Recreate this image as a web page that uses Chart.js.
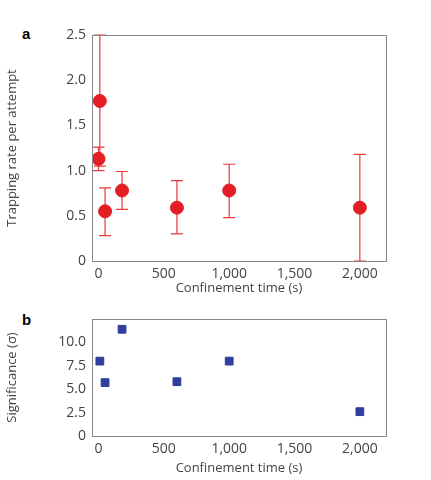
<!DOCTYPE html><html><head><meta charset="utf-8">
<script src="https://cdn.jsdelivr.net/npm/chart.js@4"></script>
<style>body{margin:0;background:#fff;width:431px;height:480px;position:relative;font-family:"Open Sans",sans-serif}
canvas{position:absolute;left:0}
.lab{position:absolute;font-weight:bold;font-size:15px;font-family:"Liberation Sans",sans-serif}</style></head><body>
<div class="lab" style="left:22px;top:25px">a</div>
<div class="lab" style="left:22px;top:311px">b</div>
<div style="position:absolute;left:0;top:0;width:431px;height:300px"><canvas id="c1"></canvas></div>
<div style="position:absolute;left:0;top:300px;width:431px;height:180px"><canvas id="c2"></canvas></div>
<script>
const timeA=[0,10,50,180,600,1000,2000];
const rate=[1.13,1.77,0.55,0.78,0.59,0.78,0.59];
const rateLo=[1.00,1.05,0.28,0.57,0.30,0.48,0.00];
const rateHi=[1.26,2.50,0.81,0.99,0.89,1.07,1.18];
const timeB=[10,50,180,600,1000,2000];
const sig=[8.0,5.7,11.4,5.8,8.0,2.6];
const xTicks=[0,500,1000,1500,2000];
const FONT={family:"Open Sans",size:13};
const TFONT={family:"Open Sans",size:14};
const grey='#888';
function xAxis(h,tp){return {type:'linear',min:-50,max:2200,afterBuildTicks:s=>{s.ticks=xTicks.map(v=>({value:v}));},
 afterFit:s=>{s.height=h;},grid:{display:false,drawOnChartArea:false,tickLength:4,color:grey},border:{color:grey},
 ticks:{font:TFONT,color:'#444',padding:1,callback:v=>v.toLocaleString('en-US')},
 title:{display:true,text:'Confinement time (s)',font:FONT,color:'#444',padding:{top:tp}}};}
function yAxis(min,max,step,title,fmt){return {min,max,afterFit:s=>{s.width=92;},
 grid:{display:false,drawOnChartArea:false,tickLength:4,color:grey},border:{color:grey},
 ticks:{stepSize:step,font:TFONT,color:'#444',padding:2,callback:fmt},
 title:{display:true,text:title,font:FONT,color:'#444',padding:{bottom:2}}};}
const frame={id:'frame',afterDraw(c){const a=c.chartArea,x=c.ctx;x.save();x.strokeStyle=grey;x.lineWidth=1;x.strokeRect(a.left+.5,a.top+.5,a.width,a.height);x.restore();}};
const errBars={id:'err',beforeDatasetsDraw(c){const x=c.ctx,sx=c.scales.x,sy=c.scales.y;x.save();x.strokeStyle='#e8393b';x.lineWidth=1.2;
 timeA.forEach((t,i)=>{const px=sx.getPixelForValue(t),lo=sy.getPixelForValue(rateLo[i]),hi=sy.getPixelForValue(rateHi[i]);
 x.beginPath();x.moveTo(px,lo);x.lineTo(px,hi);x.moveTo(px-6,lo);x.lineTo(px+6,lo);x.moveTo(px-6,hi);x.lineTo(px+6,hi);x.stroke();});x.restore();}};
new Chart(document.getElementById('c1'),{type:'scatter',
 data:{datasets:[{data:timeA.map((t,i)=>({x:t,y:rate[i]})),backgroundColor:'#e31e24',borderColor:'#e31e24',pointRadius:6.5}]},
 options:{responsive:true,maintainAspectRatio:false,animation:false,layout:{padding:{top:35,right:45,left:0,bottom:0}},
  plugins:{legend:{display:false},tooltip:{enabled:false}},
  scales:{x:xAxis(39,6),y:yAxis(0,2.5,0.5,'Trapping rate per attempt',v=>v===0?'0':v.toFixed(1))}},plugins:[frame,errBars]});
new Chart(document.getElementById('c2'),{type:'scatter',
 data:{datasets:[{data:timeB.map((t,i)=>({x:t,y:sig[i]})),backgroundColor:'#2e3f9e',borderColor:'#2e3f9e',pointStyle:'rect',pointRadius:5.5}]},
 options:{responsive:true,maintainAspectRatio:false,animation:false,layout:{padding:{top:19,right:45,left:0,bottom:0}},
  plugins:{legend:{display:false},tooltip:{enabled:false}},
  scales:{x:xAxis(44,4),y:yAxis(0,12.5,2.5,'Significance (σ)',v=>v===0?'0':(v>12?'':v.toFixed(1)))}},plugins:[frame]});
</script></body></html>
